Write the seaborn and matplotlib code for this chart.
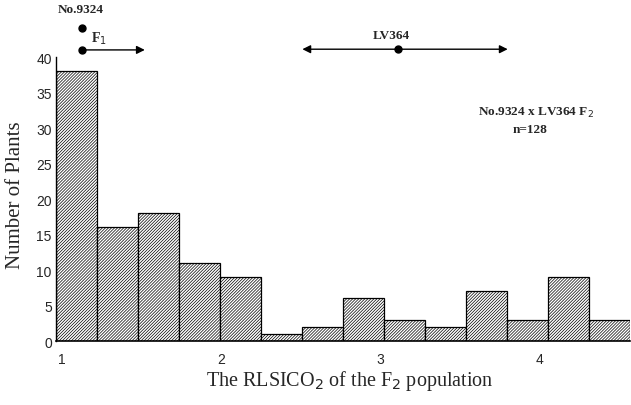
import matplotlib
matplotlib.use("Agg")
import matplotlib.pyplot as plt
import pandas as pd
import seaborn as sns

# histogram of the F2 population (14 classes)
counts = [38, 16, 18, 11, 9, 1, 2, 6, 3, 2, 7, 3, 9, 3]
bin_start = 0.962
bin_width = 0.2574
x_ticks = [1, 2, 3, 4]
y_ticks = [0, 5, 10, 15, 20, 25, 30, 35, 40]

# parental / F1 ranges drawn above the plot
p1_mark = 1.126
f1_range = (1.126, 1.52)
lv_mean = 3.11
lv_range = (2.51, 3.80)

edges = [bin_start + bin_width * i for i in range(len(counts) + 1)]
centers = [e + bin_width / 2 for e in edges[:-1]]
df = pd.DataFrame({"rlsico2": centers, "n": counts})

sns.set_theme(style="white")
plt.rcParams["hatch.linewidth"] = 0.5
serif = ["Liberation Serif", "DejaVu Serif"]
sans = ["Liberation Sans", "DejaVu Sans"]

fig = plt.figure(figsize=(6.31, 4.06), dpi=100)
ax = fig.add_axes([0.0887, 0.1576, 0.909, 0.6995])

sns.histplot(data=df, x="rlsico2", weights="n", binwidth=bin_width,
             binrange=(edges[0], edges[-1]), color="white",
             edgecolor="black", linewidth=0.9, alpha=1, ax=ax)
for p in ax.patches:
    p.set_hatch("/" * 11)

ax.set_xlim(edges[0], edges[-1])
ax.set_ylim(0, 40)
ax.set_xticks(x_ticks)
ax.set_xticklabels([str(t) for t in x_ticks], family=sans, fontsize=10)
ax.set_yticks(y_ticks)
ax.set_yticklabels([str(t) for t in y_ticks], family=sans, fontsize=10)
ax.tick_params(axis="y", direction="in", length=3, width=0.8, color="black", pad=3)
ax.tick_params(axis="x", length=0, pad=8)
sns.despine(ax=ax, top=True, right=True)
ax.spines["left"].set_color("black")
ax.spines["bottom"].set_color("black")
ax.spines["left"].set_linewidth(1.0)
ax.spines["bottom"].set_linewidth(1.2)
ax.set_xlabel("")
ax.set_ylabel("")

fig.text(350 / 631, 1 - 381 / 406, "The RLSICO$_2$ of the F$_2$ population",
         family=serif, fontsize=14.5, ha="center", va="center")
fig.text(16 / 631, 1 - 195 / 406, "Number of Plants", family=serif,
         fontsize=15, rotation=90, ha="center", va="center")

# No.9324 and F1 above the axes
ax.plot([p1_mark, p1_mark], [44.1, 41.0], "o", color="black", ms=5,
        clip_on=False)
ax.text(p1_mark - 0.01, 46.8, "No.9324", family=serif, fontweight="bold",
        fontsize=9.5, ha="center", va="center")
ax.annotate("", xy=(f1_range[1], 41.0), xytext=(f1_range[0], 41.0),
            arrowprops=dict(arrowstyle="-|>", color="black", lw=1.0,
                            mutation_scale=12, shrinkA=0, shrinkB=0),
            annotation_clip=False)
ax.text(1.23, 42.7, "F$_1$", family=serif, fontweight="bold", fontsize=10,
        ha="center", va="center")

# LV364 range
ax.annotate("", xy=(lv_range[1], 41.1), xytext=(lv_range[0], 41.1),
            arrowprops=dict(arrowstyle="<|-|>", color="black", lw=1.0,
                            mutation_scale=12, shrinkA=0, shrinkB=0),
            annotation_clip=False)
ax.plot([lv_mean], [41.1], "o", color="black", ms=5, clip_on=False)
ax.text(lv_mean - 0.04, 43.1, "LV364", family=serif, fontweight="bold",
        fontsize=9.5, ha="center", va="center")

ax.text(3.975, 32.2, "No.9324 x LV364 F$_2$", family=serif, fontweight="bold",
        fontsize=9.5, ha="center", va="center")
ax.text(3.94, 29.9, "n=128", family=serif, fontweight="bold", fontsize=9.5,
        ha="center", va="center")

fig.savefig("out.png", dpi=100)
